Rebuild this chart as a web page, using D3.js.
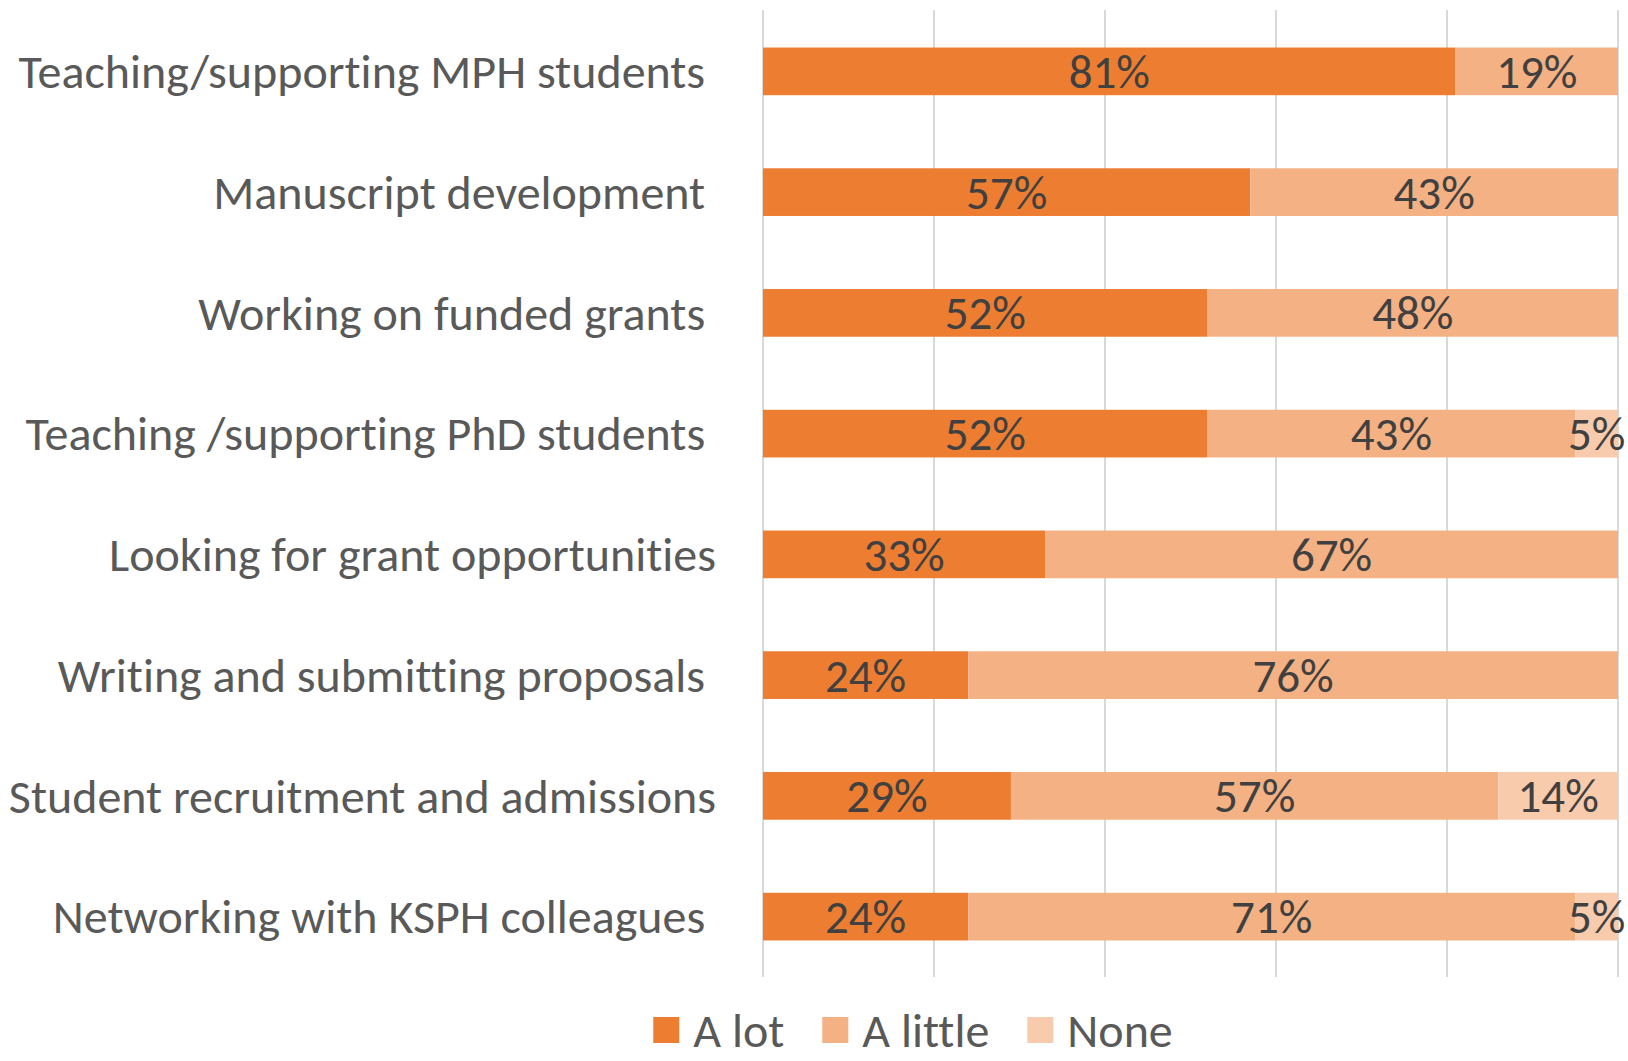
<!DOCTYPE html>
<html>
<head>
<meta charset="utf-8">
<script src="https://cdn.jsdelivr.net/npm/d3@7"></script>
<style>
  body { margin: 0; background: #fff; }
  text { font-family: Carlito, Calibri, Lato, sans-serif; white-space: pre; font-variant-ligatures: none; }
</style>
</head>
<body>
<div id="chart"></div>
<script>
// categories (top to bottom)
var categories = [
  "Teaching/supporting MPH students ",
  "Manuscript development ",
  "Working on funded grants ",
  "Teaching /supporting PhD students ",
  "Looking for grant opportunities",
  "Writing and submitting proposals ",
  "Student recruitment and admissions",
  "Networking with KSPH colleagues "
];

// series values, percent
var aLot = [81, 57, 52, 52, 33, 24, 29, 24];
var aLittle = [19, 43, 48, 43, 67, 76, 57, 71];
var none = [0, 0, 0, 5, 0, 0, 14, 5];

var seriesNames = ["A lot", "A little", "None"];
var seriesColors = ["#ED7D31", "#F4B183", "#F8CBAD"];
var xTicks = [0, 20, 40, 60, 80, 100];

var w = 1628;
var h = 1061;
var fontSize = 48;

var svg = d3
  .select("#chart")
  .append("svg")
  .attr("width", w)
  .attr("height", h);

// scales
var x = d3.scaleLinear().domain([0, 100]).range([763, 1618]);
var y = d3
  .scaleBand()
  .domain(categories)
  .range([11, 977])
  .paddingInner(0.605)
  .paddingOuter(0.3025);

// gridlines
svg
  .append("g")
  .selectAll("line")
  .data(xTicks)
  .enter()
  .append("line")
  .attr("x1", (d) => x(d))
  .attr("x2", (d) => x(d))
  .attr("y1", 10)
  .attr("y2", 977)
  .attr("stroke", "#D9D9D9")
  .attr("stroke-width", 2);

// stack the data
var rows = categories.map(function (c, i) {
  return { cat: c, "A lot": aLot[i], "A little": aLittle[i], None: none[i] };
});
var stacked = d3.stack().keys(seriesNames)(rows);

var layers = svg
  .append("g")
  .selectAll("g")
  .data(stacked)
  .enter()
  .append("g")
  .attr("fill", (d, i) => seriesColors[i]);

layers
  .selectAll("rect")
  .data((d) => d)
  .enter()
  .append("rect")
  .attr("x", (d) => x(d[0]))
  .attr("width", (d) => x(d[1]) - x(d[0]))
  .attr("y", (d) => y(d.data.cat))
  .attr("height", y.bandwidth());

// data labels
layers
  .selectAll("text")
  .data((d) => d.filter((s) => s[1] - s[0] > 0))
  .enter()
  .append("text")
  .attr("x", (d) => (x(d[0]) + x(d[1])) / 2)
  .attr("y", (d) => y(d.data.cat) + y.bandwidth() / 2)
  .attr("dy", "0.35em")
  .attr("text-anchor", "middle")
  .attr("fill", "#404040")
  .style("font-size", "47px")
  .text((d) => d[1] - d[0] + "%");

// category labels
svg
  .append("g")
  .selectAll("text")
  .data(categories)
  .enter()
  .append("text")
  .attr("x", 716)
  .attr("y", (d) => y(d) + y.bandwidth() / 2)
  .attr("dy", "0.35em")
  .attr("text-anchor", "end")
  .attr("fill", "#595959")
  .style("font-size", fontSize + "px")
  .text((d) => d);

// legend
var legend = svg.append("g");
var lx = 0;
seriesNames.forEach(function (name, i) {
  var item = legend.append("g").attr("transform", "translate(" + lx + ",0)");
  item
    .append("rect")
    .attr("x", 0)
    .attr("y", 1017)
    .attr("width", 26)
    .attr("height", 26)
    .attr("fill", seriesColors[i]);
  var t = item
    .append("text")
    .attr("x", 40)
    .attr("y", 1030)
    .attr("dy", "0.35em")
    .attr("fill", "#595959")
    .style("font-size", fontSize + "px")
    .text(name);
  lx += 40 + t.node().getComputedTextLength() + 38;
});
var lw = lx - 38;
legend.attr("transform", "translate(" + (913 - lw / 2) + ",0)");
</script>
</body>
</html>
